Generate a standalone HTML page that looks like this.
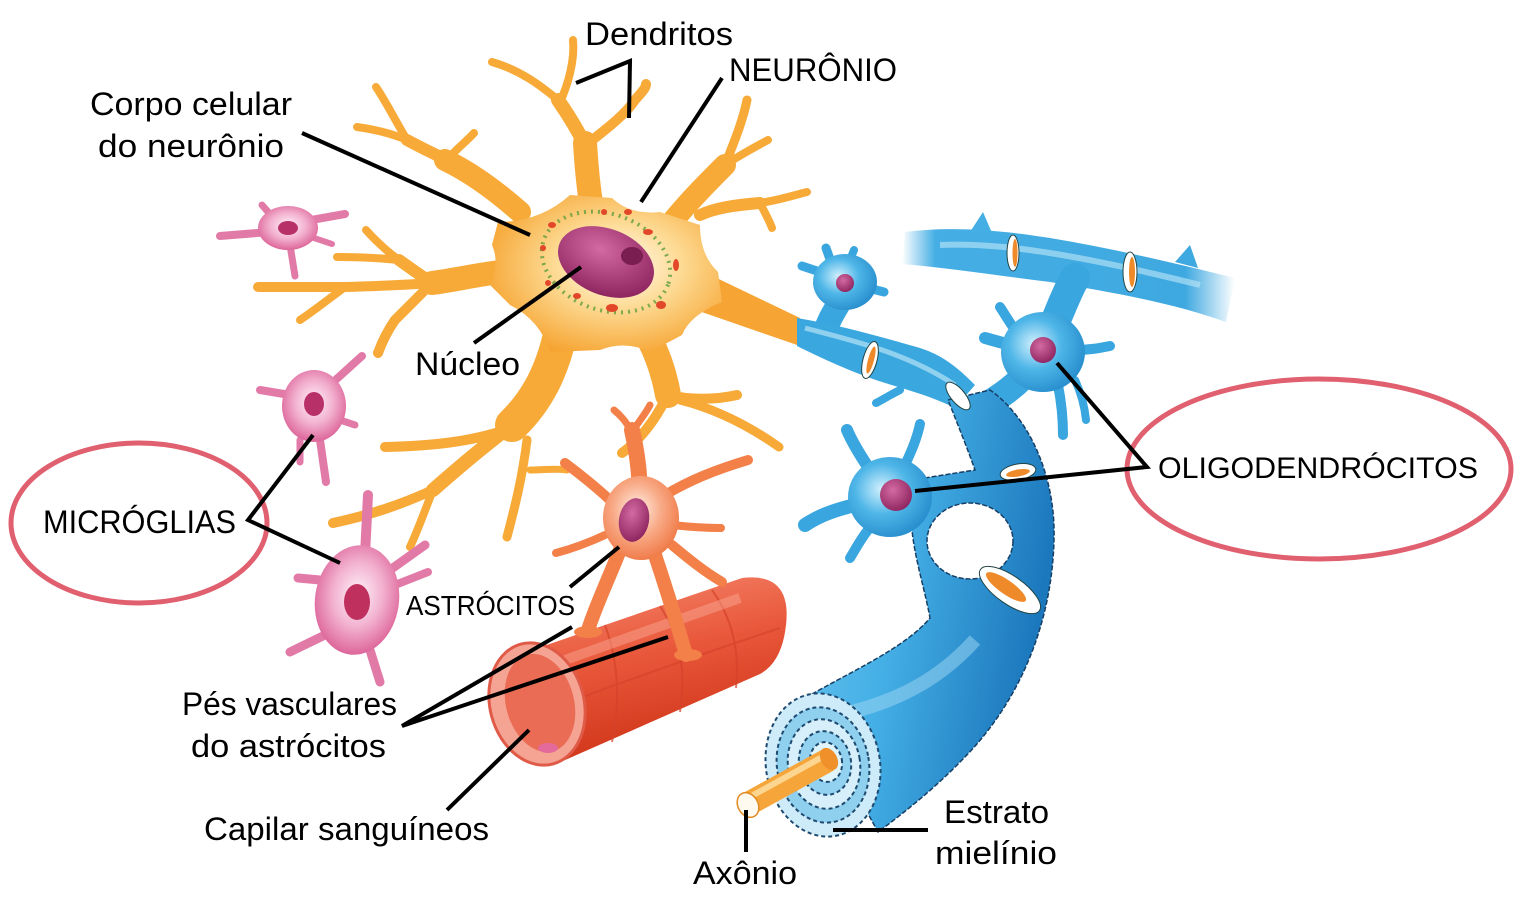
<!DOCTYPE html>
<html><head><meta charset="utf-8">
<style>
html,body{margin:0;padding:0;background:#fff;}
svg{display:block;}
text{font-family:"Liberation Sans",Arial,sans-serif;fill:#000;}
</style></head><body>
<svg width="1520" height="904" viewBox="0 0 1520 904" xmlns="http://www.w3.org/2000/svg">
<defs>
 <radialGradient id="nbody" cx="0.55" cy="0.45" r="0.6">
  <stop offset="0" stop-color="#fffaf0"/>
  <stop offset="0.45" stop-color="#fddb95"/>
  <stop offset="1" stop-color="#f6a431"/>
 </radialGradient>
 <radialGradient id="nuc" cx="0.4" cy="0.35" r="0.7">
  <stop offset="0" stop-color="#d46aa2"/>
  <stop offset="1" stop-color="#8c235e"/>
 </radialGradient>
 <radialGradient id="mg" cx="0.5" cy="0.45" r="0.6">
  <stop offset="0" stop-color="#fff4f9"/>
  <stop offset="0.5" stop-color="#f2b0cf"/>
  <stop offset="1" stop-color="#d9578f"/>
 </radialGradient>
 <radialGradient id="ast" cx="0.45" cy="0.4" r="0.65">
  <stop offset="0" stop-color="#fff1e6"/>
  <stop offset="0.5" stop-color="#f8a985"/>
  <stop offset="1" stop-color="#ef7440"/>
 </radialGradient>
 <linearGradient id="cap" x1="0" y1="0" x2="0.3" y2="1">
  <stop offset="0" stop-color="#f58b72"/>
  <stop offset="0.5" stop-color="#e9573a"/>
  <stop offset="1" stop-color="#cf3418"/>
 </linearGradient>
 <radialGradient id="blue" cx="0.4" cy="0.4" r="0.7">
  <stop offset="0" stop-color="#d2f0fc"/>
  <stop offset="0.45" stop-color="#4fb6e8"/>
  <stop offset="1" stop-color="#2086c8"/>
 </radialGradient>
 <linearGradient id="tube" x1="0" y1="0" x2="1" y2="0.3">
  <stop offset="0" stop-color="#6cc4ee"/>
  <stop offset="0.45" stop-color="#45b0e6"/>
  <stop offset="1" stop-color="#1c78bd"/>
 </linearGradient>
 <linearGradient id="fade" x1="0" y1="0" x2="1" y2="0">
  <stop offset="0" stop-color="#45aee4" stop-opacity="0"/>
  <stop offset="0.1" stop-color="#45aee4" stop-opacity="1"/>
  <stop offset="0.85" stop-color="#3ea8e0" stop-opacity="1"/>
  <stop offset="1" stop-color="#3ea8e0" stop-opacity="0"/>
 </linearGradient>
</defs>

<rect width="1520" height="904" fill="#fff"/>

<!-- ===== Neuron dendrites ===== -->
<g stroke="#f7aa38" fill="none" stroke-linecap="round" stroke-linejoin="round">
 <path d="M592,210 C588,185 586,160 585,143" stroke-width="24"/>
 <path d="M585,145 C575,125 565,110 558,100" stroke-width="14"/>
 <path d="M560,102 C568,85 575,60 573,40" stroke-width="8"/>
 <path d="M558,100 C540,85 520,70 492,62" stroke-width="8"/>
 <path d="M586,145 C605,130 625,115 635,100 C642,92 646,88 646,84" stroke-width="10"/>
 <path d="M520,212 C495,190 470,172 445,160" stroke-width="22"/>
 <path d="M447,160 C455,150 468,140 474,133" stroke-width="8"/>
 <path d="M447,160 C430,152 418,146 407,140" stroke-width="12"/>
 <path d="M407,140 C395,120 385,100 376,87" stroke-width="8"/>
 <path d="M407,140 C390,133 372,129 357,127" stroke-width="8"/>
 <path d="M672,222 C690,200 710,180 725,165" stroke-width="22"/>
 <path d="M725,165 C735,140 743,120 747,100" stroke-width="9"/>
 <path d="M725,165 C740,155 755,147 768,140" stroke-width="8"/>
 <path d="M700,215 C715,208 735,205 760,203" stroke-width="12"/>
 <path d="M760,203 C780,200 795,195 807,192" stroke-width="8"/>
 <path d="M760,203 C765,213 770,222 772,228" stroke-width="8"/>
 <path d="M500,272 C475,275 455,280 432,283" stroke-width="24"/>
 <path d="M432,283 C420,275 410,268 399,260" stroke-width="12"/>
 <path d="M399,260 C385,250 375,240 366,230" stroke-width="8"/>
 <path d="M399,260 C380,258 360,257 337,257" stroke-width="8"/>
 <path d="M432,283 C405,285 380,286 345,287 C310,287 285,287 258,287" stroke-width="10"/>
 <path d="M345,287 C330,298 315,310 300,320" stroke-width="8"/>
 <path d="M432,283 C415,300 400,315 395,320 C388,330 382,342 378,353" stroke-width="10"/>
 <path d="M560,335 C552,370 538,400 512,425" stroke-width="34"/>
 <path d="M512,425 C485,445 458,468 433,490" stroke-width="14"/>
 <path d="M505,430 C470,442 430,446 385,447" stroke-width="10"/>
 <path d="M433,490 C400,505 370,515 333,523" stroke-width="10"/>
 <path d="M433,490 C425,510 418,530 410,547" stroke-width="8"/>
 <path d="M527,440 C522,480 514,510 507,537" stroke-width="9"/>
 <path d="M530,470 C545,470 555,468 567,470" stroke-width="7"/>
 <path d="M650,340 C660,360 665,378 668,395" stroke-width="26"/>
 <path d="M668,395 C690,400 715,400 737,395" stroke-width="10"/>
 <path d="M680,400 C720,410 752,428 779,447" stroke-width="9"/>
 <path d="M665,400 C655,420 640,440 622,453" stroke-width="10"/>
</g>
<!-- axon from neuron -->
<path d="M700,270 L800,318 L800,346 L696,310 Z" fill="#f6a433"/>
<!-- neuron body -->
<path d="M498,222 Q540,222 570,195 L612,198 Q630,215 660,212 L700,225 Q700,255 718,272 L722,302 Q690,315 682,335 L650,352 Q625,340 600,350 L550,352 Q540,320 510,305 L490,285 Q500,262 492,245 Z" fill="url(#nbody)"/>
<!-- Nissl / dots -->
<ellipse cx="606" cy="262" rx="66" ry="48" transform="rotate(20 606 262)" fill="none" stroke="#5d9c3c" stroke-width="4" stroke-dasharray="2 5" opacity="0.8"/>
<g fill="#e2472a">
 <ellipse cx="552" cy="225" rx="4" ry="3"/><ellipse cx="604" cy="212" rx="3" ry="3"/>
 <ellipse cx="648" cy="232" rx="5" ry="3"/><ellipse cx="676" cy="265" rx="3" ry="6"/>
 <ellipse cx="661" cy="305" rx="5" ry="4"/><ellipse cx="612" cy="308" rx="6" ry="4"/>
 <ellipse cx="577" cy="296" rx="4" ry="3"/><ellipse cx="543" cy="248" rx="3" ry="3"/>
 <ellipse cx="628" cy="212" rx="4" ry="3"/><ellipse cx="548" cy="283" rx="3" ry="3"/>
</g>
<ellipse cx="606" cy="262" rx="50" ry="33" transform="rotate(22 606 262)" fill="url(#nuc)"/>
<ellipse cx="632" cy="256" rx="11" ry="9" fill="#7a1d50"/>

<!-- ===== Microglia ===== -->
<g stroke="#e27aa8" fill="none" stroke-linecap="round">
 <path d="M270,232 L220,236" stroke-width="8"/>
 <path d="M275,220 L262,205" stroke-width="7"/>
 <path d="M300,222 L345,214" stroke-width="8"/>
 <path d="M305,235 L332,244" stroke-width="6"/>
 <path d="M290,245 L295,276" stroke-width="7"/>
 <path d="M330,385 L362,356" stroke-width="8"/>
 <path d="M290,395 L260,390" stroke-width="8"/>
 <path d="M340,420 L355,425" stroke-width="7"/>
 <path d="M320,440 L326,482" stroke-width="8"/>
 <path d="M300,440 L300,462" stroke-width="7"/>
 <path d="M365,555 L368,495" stroke-width="10"/>
 <path d="M390,570 L425,545" stroke-width="9"/>
 <path d="M395,585 L428,572" stroke-width="8"/>
 <path d="M320,580 L298,578" stroke-width="9"/>
 <path d="M325,635 L290,652" stroke-width="9"/>
 <path d="M370,650 L380,682" stroke-width="9"/>
</g>
<ellipse cx="288" cy="228" rx="30" ry="22" fill="url(#mg)"/>
<ellipse cx="288" cy="228" rx="10" ry="7" fill="#b83068"/>
<ellipse cx="314" cy="406" rx="32" ry="36" fill="url(#mg)"/>
<ellipse cx="314" cy="404" rx="10" ry="12" fill="#b83068"/>
<ellipse cx="357" cy="600" rx="42" ry="55" transform="rotate(8 357 600)" fill="url(#mg)"/>
<ellipse cx="357" cy="602" rx="13" ry="18" fill="#c0305e"/>

<!-- ===== Capillary ===== -->
<path d="M532,650 L742,578 Q792,572 786,625 Q782,662 760,674 L556,764 Z" fill="url(#cap)"/>
<g stroke="#d5432b" stroke-width="2" fill="none" opacity="0.7">
 <path d="M605,625 Q625,680 612,742"/>
 <path d="M660,606 Q690,652 680,712"/>
 <path d="M712,590 Q742,632 736,688"/>
 <path d="M575,700 Q660,668 780,628"/>
</g>
<path d="M565,660 L740,598" stroke="#f9a48f" stroke-width="10" opacity="0.5"/>
<ellipse cx="537" cy="704" rx="47" ry="62" transform="rotate(-15 537 704)" fill="#f5a494" stroke="#e05a48" stroke-width="3"/>
<ellipse cx="540" cy="703" rx="34" ry="50" transform="rotate(-15 540 703)" fill="#ea6c55"/>
<ellipse cx="548" cy="748" rx="10" ry="5" fill="#e36a9a"/>

<!-- ===== Astrocyte ===== -->
<g stroke="#f28048" fill="none" stroke-linecap="round" stroke-linejoin="round">
 <path d="M640,500 C640,470 636,448 632,430" stroke-width="16"/>
 <path d="M632,432 C625,420 620,415 614,410" stroke-width="7"/>
 <path d="M632,432 C640,420 646,413 650,405" stroke-width="7"/>
 <path d="M615,505 C600,490 585,478 565,463" stroke-width="10"/>
 <path d="M665,495 C690,480 715,470 748,460" stroke-width="10"/>
 <path d="M672,525 C690,527 705,528 721,528" stroke-width="8"/>
 <path d="M605,535 C590,542 575,548 556,553" stroke-width="8"/>
 <path d="M620,550 C608,580 596,605 588,630" stroke-width="14"/>
 <path d="M655,555 C665,585 676,620 686,655" stroke-width="14"/>
 <path d="M672,545 C690,560 705,572 722,582" stroke-width="10"/>
</g>
<ellipse cx="588" cy="632" rx="14" ry="6" fill="#f28048"/>
<ellipse cx="688" cy="655" rx="14" ry="6" fill="#f28048"/>
<ellipse cx="641" cy="518" rx="38" ry="42" fill="url(#ast)"/>
<ellipse cx="634" cy="520" rx="15" ry="22" transform="rotate(10 634 520)" fill="url(#nuc)"/>

<!-- ===== Oligodendrocytes & myelin ===== -->
<path d="M905,232 C950,226 1000,230 1050,238 C1110,248 1170,262 1235,278 L1226,322 C1170,302 1110,292 1050,282 C1000,276 950,268 902,264 Z" fill="url(#fade)"/>
<path d="M970,232 L983,212 L992,233 Z" fill="#45aee4"/>
<path d="M1175,262 L1190,245 L1198,268 Z" fill="#3ea8e0"/>
<path d="M940,245 C1000,242 1080,255 1200,285" stroke="#bfe7f8" stroke-width="6" fill="none" opacity="0.6"/>
<ellipse cx="1013" cy="253" rx="6" ry="18" fill="#fff" stroke="#244" stroke-width="1"/>
<ellipse cx="1015" cy="253" rx="2.5" ry="14" fill="#ef8a2a"/>
<ellipse cx="1130" cy="272" rx="7" ry="20" fill="#fff" stroke="#244" stroke-width="1"/>
<ellipse cx="1132" cy="272" rx="3" ry="15" fill="#ef8a2a"/>

<g stroke="#3aa6df" fill="none" stroke-linecap="round" stroke-linejoin="round">
 <path d="M1052,330 C1060,310 1068,290 1075,278" stroke-width="30"/>
 <path d="M1015,330 C1008,320 1004,313 1000,307" stroke-width="10"/>
 <path d="M1010,345 C1000,342 992,340 985,338" stroke-width="12"/>
 <path d="M1075,350 C1090,350 1100,348 1110,346" stroke-width="10"/>
 <path d="M1058,385 C1062,405 1063,420 1063,435" stroke-width="10"/>
 <path d="M1075,380 C1082,395 1085,410 1086,420" stroke-width="8"/>
 <path d="M1022,378 C1010,390 1000,396 988,404" stroke-width="26"/>
 <path d="M838,305 C832,315 828,322 825,332" stroke-width="24"/>
 <path d="M832,265 L826,248" stroke-width="9"/>
 <path d="M850,260 L854,250" stroke-width="8"/>
 <path d="M868,288 L884,292" stroke-width="9"/>
 <path d="M820,272 L802,266" stroke-width="9"/>
 <path d="M870,470 C860,455 852,442 847,430" stroke-width="12"/>
 <path d="M905,465 C912,450 917,438 920,424" stroke-width="10"/>
 <path d="M855,505 C835,510 820,515 805,525" stroke-width="14"/>
 <path d="M868,530 C860,540 855,550 850,558" stroke-width="10"/>
 <path d="M900,390 C890,395 882,400 876,403" stroke-width="8"/>
</g>
<ellipse cx="1043" cy="352" rx="42" ry="40" fill="url(#blue)"/>
<circle cx="1043" cy="350" r="13" fill="url(#nuc)"/>
<ellipse cx="845" cy="282" rx="32" ry="28" fill="url(#blue)"/>
<circle cx="845" cy="283" r="9" fill="url(#nuc)"/>

<!-- axon segment -->
<path d="M797,318 C840,325 885,338 920,348 C945,356 960,370 975,385 L955,408 C935,398 915,392 895,386 C860,376 825,360 797,346 Z" fill="#3ba7df"/>
<path d="M805,328 C850,340 905,352 955,385" stroke="#b7e3f7" stroke-width="5" fill="none" opacity="0.7"/>
<ellipse cx="870" cy="360" rx="7" ry="19" transform="rotate(15 870 360)" fill="#fff" stroke="#244" stroke-width="1"/>
<ellipse cx="871" cy="360" rx="3" ry="14" transform="rotate(15 871 360)" fill="#ef8a2a"/>

<!-- main tube -->
<path d="M948,400 L990,390 C1030,418 1056,478 1054,540 C1052,620 1022,700 962,760 C935,788 905,812 878,832 L805,698 C850,672 905,648 930,618 C925,590 915,560 912,530 L912,480 L975,470 C968,450 958,425 948,400 Z" fill="url(#tube)" stroke="#173f66" stroke-width="1.5" stroke-dasharray="5 2"/>
<path d="M975,640 C930,690 880,705 840,715" stroke="#9fd8f3" stroke-width="14" fill="none" opacity="0.5"/>
<ellipse cx="890" cy="497" rx="42" ry="40" fill="url(#blue)"/>
<circle cx="896" cy="495" r="16" fill="url(#nuc)"/>
<ellipse cx="970" cy="541" rx="43" ry="38" fill="#fff" stroke="#173f66" stroke-width="1.5" stroke-dasharray="5 2"/>
<ellipse cx="958" cy="396" rx="7" ry="17" transform="rotate(-40 958 396)" fill="#fff" stroke="#244" stroke-width="1"/>
<ellipse cx="1018" cy="472" rx="18" ry="8" transform="rotate(-10 1018 472)" fill="#fff" stroke="#244" stroke-width="1"/>
<ellipse cx="1018" cy="473" rx="12" ry="3.5" transform="rotate(-10 1018 473)" fill="#ef8a2a"/>
<ellipse cx="1010" cy="590" rx="36" ry="14" transform="rotate(35 1010 590)" fill="#fff" stroke="#244" stroke-width="1"/>
<ellipse cx="1006" cy="587" rx="24" ry="7" transform="rotate(35 1006 587)" fill="#ef8a2a"/>

<!-- disc -->
<ellipse cx="823" cy="765" rx="57" ry="72" transform="rotate(-10 823 765)" fill="#cdebf8" stroke="#1f4a70" stroke-width="2" stroke-dasharray="4 3"/>
<ellipse cx="823" cy="765" rx="46" ry="58" transform="rotate(-10 823 765)" fill="#8fd0ef" stroke="#1f4a70" stroke-width="2" stroke-dasharray="4 3"/>
<ellipse cx="824" cy="764" rx="36" ry="45" transform="rotate(-10 824 764)" fill="#d6effa" stroke="#1f4a70" stroke-width="2" stroke-dasharray="4 3"/>
<ellipse cx="825" cy="763" rx="26" ry="32" transform="rotate(-10 825 763)" fill="#92d2f0" stroke="#1f4a70" stroke-width="2" stroke-dasharray="4 3"/>
<ellipse cx="826" cy="762" rx="16" ry="20" transform="rotate(-10 826 762)" fill="#e0f4fc" stroke="#1f4a70" stroke-width="2" stroke-dasharray="4 3"/>

<!-- axon cylinder -->
<line x1="748" y1="804" x2="828" y2="760" stroke="#f6a53a" stroke-width="24"/>
<line x1="748" y1="798" x2="826" y2="755" stroke="#fcd690" stroke-width="6"/>
<ellipse cx="829" cy="759" rx="8" ry="12" transform="rotate(-30 829 759)" fill="#f0902a"/>
<ellipse cx="748" cy="805" rx="10" ry="13" transform="rotate(-30 748 805)" fill="#fffaf0" stroke="#e08a20" stroke-width="1.5"/>

<!-- ===== Ellipses ===== -->
<ellipse cx="139" cy="523" rx="128" ry="80" fill="none" stroke="#e0606f" stroke-width="5"/>
<ellipse cx="1319" cy="469" rx="192" ry="90" fill="none" stroke="#e0606f" stroke-width="5"/>

<!-- ===== Leader lines ===== -->
<g stroke="#000" stroke-width="4" fill="none">
 <polyline points="576,83 630,61 629,118"/>
 <line x1="722" y1="78" x2="641" y2="202"/>
 <line x1="302" y1="133" x2="530" y2="235"/>
 <line x1="474" y1="343" x2="581" y2="267"/>
 <polyline points="313,435 248,520 340,563"/>
 <line x1="570" y1="587" x2="619" y2="547"/>
 <polyline points="572,627 402,726 668,637"/>
 <line x1="447" y1="810" x2="529" y2="730"/>
 <line x1="746" y1="810" x2="746" y2="852"/>
 <line x1="833" y1="830" x2="928" y2="830"/>
 <polyline points="1057,363 1147,467 915,491"/>
</g>

<!-- ===== Labels ===== -->
<g font-size="32">
 <text x="585" y="45" textLength="148" lengthAdjust="spacingAndGlyphs">Dendritos</text>
 <text x="729" y="81" textLength="168" lengthAdjust="spacingAndGlyphs">NEURÔNIO</text>
 <text x="90" y="115" textLength="202" lengthAdjust="spacingAndGlyphs">Corpo celular</text>
 <text x="98" y="157" textLength="186" lengthAdjust="spacingAndGlyphs">do neurônio</text>
 <text x="415" y="375" textLength="105" lengthAdjust="spacingAndGlyphs">Núcleo</text>
 <text x="43" y="533" textLength="193" lengthAdjust="spacingAndGlyphs">MICRÓGLIAS</text>
 <text x="182" y="715" textLength="215" lengthAdjust="spacingAndGlyphs">Pés vasculares</text>
 <text x="191" y="757" textLength="195" lengthAdjust="spacingAndGlyphs">do astrócitos</text>
 <text x="204" y="840" textLength="285" lengthAdjust="spacingAndGlyphs">Capilar sanguíneos</text>
 <text x="944" y="823" textLength="105" lengthAdjust="spacingAndGlyphs">Estrato</text>
 <text x="935" y="864" textLength="122" lengthAdjust="spacingAndGlyphs">mielínio</text>
 <text x="693" y="884" textLength="104" lengthAdjust="spacingAndGlyphs">Axônio</text>
</g>
<text x="406" y="615" font-size="28" textLength="169" lengthAdjust="spacingAndGlyphs">ASTRÓCITOS</text>
<text x="1158" y="478" font-size="30" textLength="320" lengthAdjust="spacingAndGlyphs">OLIGODENDRÓCITOS</text>
</svg>
</body></html>
